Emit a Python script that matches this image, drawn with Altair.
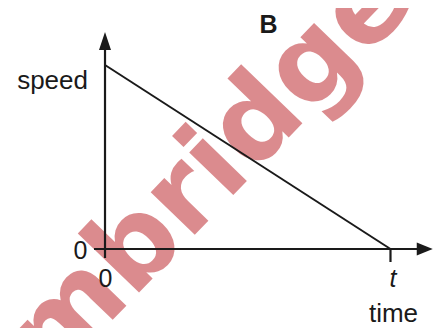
import altair as alt
import pandas as pd

# ---- data ----
time_vals = [0, 1]          # 0 .. t
speed_vals = [1, 0]         # initial speed .. 0
y_axis_label = "speed"
x_axis_label = "time"
x_ticks = ["0", "t"]
y_ticks = ["0"]
panel_label = "B"
watermark = "mbridge"

# axis extents (data units)
y_axis_from, y_axis_to = -0.049, 1.082
x_axis_from, x_axis_to = -0.0385, 1.093
y_arrow_pos = 1.13
x_arrow_pos = 1.12
t_tick_from = -0.0707

xs = alt.Scale(domain=[-0.3398, 1.1489], nice=False, zero=False)
ys = alt.Scale(domain=[-0.4293, 1.3098], nice=False, zero=False)

def X(f="x"):
    return alt.X(f, type="quantitative", scale=xs, axis=None)

def Y(f="y"):
    return alt.Y(f, type="quantitative", scale=ys, axis=None)

INK = "#1a1a1a"
FONT = "Liberation Sans"

df_line = pd.DataFrame({"x": time_vals, "y": speed_vals})
line = alt.Chart(df_line).mark_line(color=INK, strokeWidth=2).encode(x=X(), y=Y())

y_axis = alt.Chart(pd.DataFrame({"x": [0], "y": [y_axis_from], "y2": [y_axis_to]})).mark_rule(
    color=INK, strokeWidth=2.2).encode(x=X(), y=Y(), y2="y2")
x_axis = alt.Chart(pd.DataFrame({"x": [x_axis_from], "x2": [x_axis_to], "y": [0]})).mark_rule(
    color=INK, strokeWidth=2.2).encode(x=X(), x2="x2", y=Y())
t_tick = alt.Chart(pd.DataFrame({"x": [time_vals[1]], "y": [t_tick_from], "y2": [0]})).mark_rule(
    color=INK, strokeWidth=2.2).encode(x=X(), y=Y(), y2="y2")

y_arrow = alt.Chart(pd.DataFrame({"x": [0], "y": [y_arrow_pos]})).mark_point(
    shape="M0,-1L0.667,1L-0.667,1Z", size=324, filled=True, color=INK, opacity=1,
    strokeWidth=0).encode(x=X(), y=Y())
x_arrow = alt.Chart(pd.DataFrame({"x": [x_arrow_pos], "y": [0]})).mark_point(
    shape="M1,0L-1,0.8L-1,-0.8Z", size=256, filled=True, color=INK, opacity=1,
    strokeWidth=0).encode(x=X(), y=Y())

def label(text, x, y, dx, dy, align="center", size=25, **kw):
    return alt.Chart(pd.DataFrame({"x": [x], "y": [y], "t": [text]})).mark_text(
        font=FONT, fontSize=size, color=INK, align=align, baseline="alphabetic",
        dx=dx, dy=dy, **kw).encode(x=X(), y=Y(), text="t:N")

lbl_speed = label(y_axis_label, 0, speed_vals[0], -17, 24, align="right", size=26)
lbl_y0 = label(y_ticks[0], 0, 0, -24.5, 10)
lbl_x0 = label(x_ticks[0], time_vals[0], 0, 0.5, 38)
lbl_t = label(x_ticks[1], time_vals[1], 0, 2.5, 38, fontStyle="italic")
lbl_time = label(x_axis_label, time_vals[1], 0, 3, 73, size=26)
lbl_B = label(panel_label, 0.5727, 1.174, 0, 0, fontWeight="bold")

wm = alt.Chart(pd.DataFrame({"x": [0.368], "y": [0.429], "t": [watermark]})).mark_text(
    font="DejaVu Sans", fontSize=112, fontWeight="bold", color="#b81a20", opacity=0.5,
    angle=314, align="center", baseline="middle").encode(x=X(), y=Y(), text="t:N")

chart = alt.layer(
    wm, line, y_axis, x_axis, t_tick, y_arrow, x_arrow,
    lbl_speed, lbl_y0, lbl_x0, lbl_t, lbl_time, lbl_B
).properties(
    width=425, height=320, padding=0, autosize="none", background="white"
).configure_view(stroke=None)

chart.save("out.html", embed_options={"renderer": "svg", "actions": False})
